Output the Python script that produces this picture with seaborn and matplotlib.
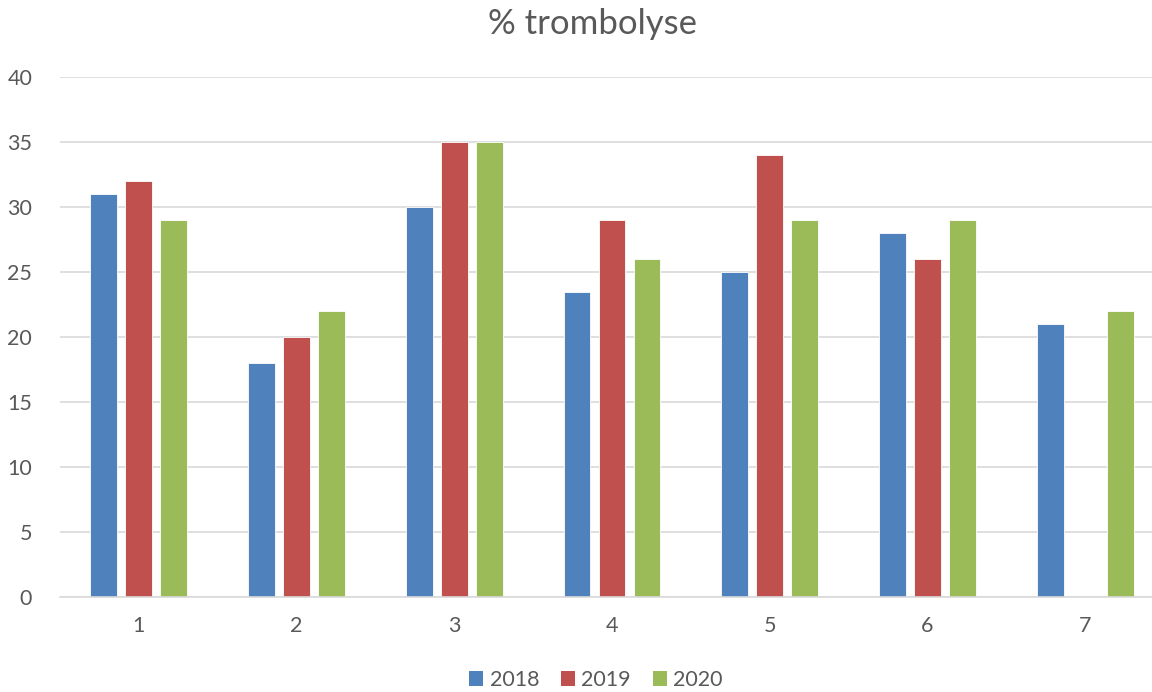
import numpy as np
import pandas as pd
import matplotlib
matplotlib.use("Agg")
import matplotlib.pyplot as plt
import seaborn as sns
from matplotlib.patches import Patch

categories = ["1", "2", "3", "4", "5", "6", "7"]
years = ["2018", "2019", "2020"]
v2018 = [31, 18, 30, 23.5, 25, 28, 21]
v2019 = [32, 20, 35, 29, 34, 26, np.nan]
v2020 = [29, 22, 35, 26, 29, 29, 22]
colors = ["#4F81BD", "#C0504D", "#9BBB59"]
title = "% trombolyse"

rows = []
for yr, vals in zip(years, [v2018, v2019, v2020]):
    for c, v in zip(categories, vals):
        rows.append({"cat": c, "year": yr, "val": v})
df = pd.DataFrame(rows).dropna()

sns.set_theme(style="white")
plt.rcParams["font.family"] = ["Lato", "DejaVu Sans"]
text_color = "#595959"

fig = plt.figure(figsize=(11.52, 6.92), dpi=100)
ax = fig.add_axes([60/1152, 1 - 597/692, 1104/1152, 520/692])

sns.barplot(data=df, x="cat", y="val", hue="year", order=categories,
            hue_order=years, palette=colors, width=0.665, gap=0.23,
            ax=ax, legend=False, saturation=1, edgecolor="white", linewidth=0.6)

ax.set_xlim(-0.5, 6.5)
ax.set_ylim(0, 40)
ax.set_yticks(range(0, 41, 5))
ax.yaxis.grid(True, color="#D9D9D9", linewidth=1.2)
ax.set_axisbelow(True)
for s in ["left", "right", "top"]:
    ax.spines[s].set_visible(False)
ax.spines["bottom"].set_color("#D9D9D9")
ax.spines["bottom"].set_linewidth(1.2)
ax.tick_params(axis="both", length=0, labelsize=15.5, colors=text_color)
ax.tick_params(axis="y", pad=20)
ax.tick_params(axis="x", pad=14)
ax.set_xlabel("")
ax.set_ylabel("")

fig.text(593/1152, 1 - 24/692, title, ha="center", va="center",
         fontsize=25, color=text_color)

handles = [Patch(facecolor=c, edgecolor="none") for c in colors]
fig.legend(handles, years, loc="center", bbox_to_anchor=(596/1152, 1 - 680/692),
           ncol=3, frameon=False, fontsize=15.5, handlelength=0.65, handleheight=0.65,
           handletextpad=0.3, columnspacing=1.0, labelcolor=text_color)

fig.savefig("out.png", dpi=100, facecolor="white")
